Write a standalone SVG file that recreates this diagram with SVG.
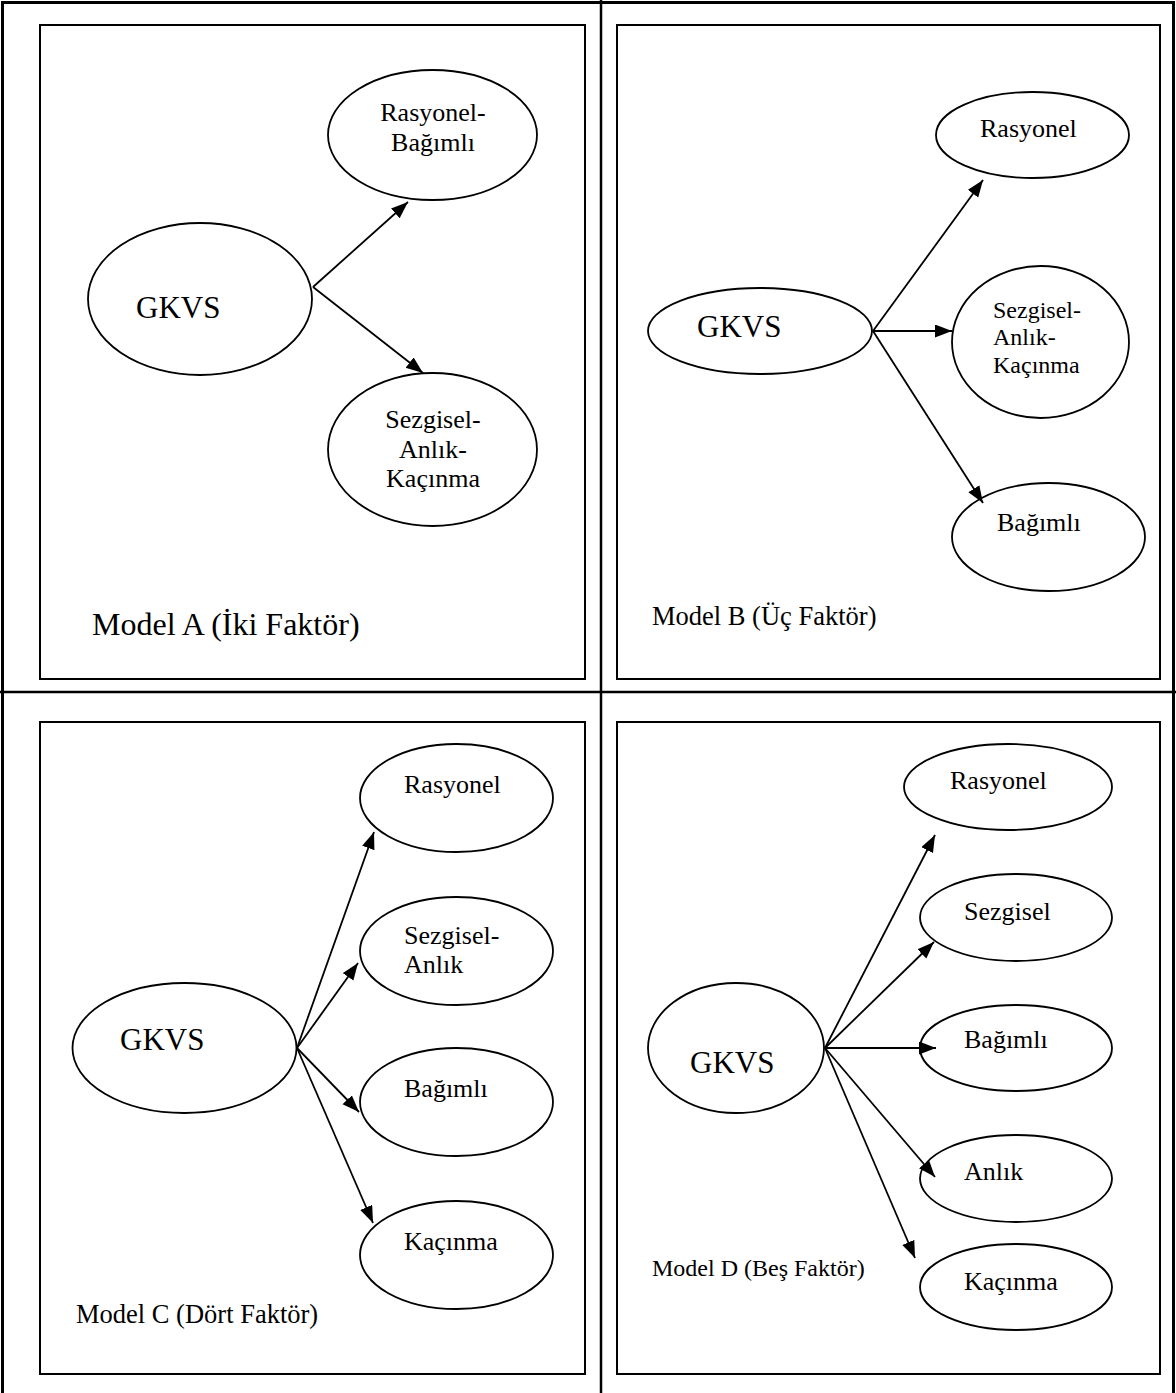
<svg xmlns="http://www.w3.org/2000/svg" width="1176" height="1393" viewBox="0 0 1176 1393">
<style>
  .frame { stroke: #000; stroke-width: 3; fill: none; }
  .div { stroke: #000; stroke-width: 2.5; fill: none; }
  .box { stroke: #000; stroke-width: 2; fill: none; }
  .node { stroke: #000; stroke-width: 1.8; fill: #fff; }
  .t { font-family: "Liberation Serif", "Times New Roman", serif; fill: #000; }
  .big { font-size: 31px; }
  .n { font-size: 26px; }
  .mid { text-anchor: middle; }
  .edge { stroke: #000; stroke-width: 1.8; fill: none; marker-end: url(#ah); }
</style>
<defs>
  <marker id="ah" markerUnits="userSpaceOnUse" markerWidth="18" markerHeight="14" refX="17" refY="6.5" orient="auto">
    <path d="M0,0 L17,6.5 L0,13 z" fill="#000"/>
  </marker>
</defs>
<rect width="1176" height="1393" fill="#fff"/>
<g id="frame">
  <path class="frame" d="M2.5,1393 V2.5 H1173.5 V1393"/>
  <path class="div" d="M601,0 V1393 M0,692 H1176"/>
  <rect class="box" x="40" y="25" width="545" height="654"/>
  <rect class="box" x="617" y="25" width="543" height="654"/>
  <rect class="box" x="40" y="722" width="545" height="652"/>
  <rect class="box" x="617" y="722" width="543" height="652"/>
</g>
<g id="modelA">
  <g id="a-gkvs"><ellipse class="node" cx="200" cy="299" rx="112" ry="76"/><text class="t big" x="136" y="318">GKVS</text></g>
  <g id="a-rb"><ellipse class="node" cx="432.5" cy="135" rx="104.5" ry="65"/><text class="t n mid" x="433" y="121">Rasyonel-</text><text class="t n mid" x="433" y="151">Bağımlı</text></g>
  <g id="a-sak"><ellipse class="node" cx="432.5" cy="449.5" rx="104.5" ry="76.5"/><text class="t n mid" x="433" y="428">Sezgisel-</text><text class="t n mid" x="433" y="458">Anlık-</text><text class="t n mid" x="433" y="487">Kaçınma</text></g>
  <text class="t" x="92" y="635" font-size="32">Model A (İki Faktör)</text>
</g>
<g id="modelB">
  <g id="b-gkvs"><ellipse class="node" cx="760" cy="331" rx="112" ry="43"/><text class="t big" x="697" y="337">GKVS</text></g>
  <g id="b-r"><ellipse class="node" cx="1032.5" cy="135" rx="96.5" ry="43"/><text class="t n" x="980" y="137">Rasyonel</text></g>
  <g id="b-sak"><ellipse class="node" cx="1040.5" cy="342" rx="88.5" ry="76"/><text class="t" font-size="24" x="993" y="318">Sezgisel-</text><text class="t" font-size="24" x="993" y="345">Anlık-</text><text class="t" font-size="24" x="993" y="373">Kaçınma</text></g>
  <g id="b-b"><ellipse class="node" cx="1048.5" cy="537" rx="96.5" ry="54"/><text class="t n" x="997" y="531">Bağımlı</text></g>
  <text class="t" x="652" y="625" font-size="26.5">Model B (Üç Faktör)</text>
</g>
<g id="modelC">
  <g id="c-gkvs"><ellipse class="node" cx="184.5" cy="1048" rx="112" ry="65"/><text class="t big" x="120" y="1050">GKVS</text></g>
  <g id="c-r"><ellipse class="node" cx="456.5" cy="798" rx="96.5" ry="54"/><text class="t n" x="404" y="793">Rasyonel</text></g>
  <g id="c-sa"><ellipse class="node" cx="456.5" cy="951" rx="96.5" ry="54"/><text class="t n" x="404" y="944">Sezgisel-</text><text class="t n" x="404" y="973">Anlık</text></g>
  <g id="c-b"><ellipse class="node" cx="456.5" cy="1102" rx="96.5" ry="54"/><text class="t n" x="404" y="1097">Bağımlı</text></g>
  <g id="c-k"><ellipse class="node" cx="456.5" cy="1255" rx="96.5" ry="54"/><text class="t n" x="404" y="1250">Kaçınma</text></g>
  <text class="t" x="76" y="1323" font-size="26.5">Model C (Dört Faktör)</text>
</g>
<g id="modelD">
  <g id="d-gkvs"><ellipse class="node" cx="736" cy="1048" rx="88" ry="65"/><text class="t big" x="690" y="1073">GKVS</text></g>
  <g id="d-r"><ellipse class="node" cx="1008" cy="787" rx="104" ry="43"/><text class="t n" x="950" y="789">Rasyonel</text></g>
  <g id="d-s"><ellipse class="node" cx="1016" cy="917.5" rx="96" ry="43.5"/><text class="t n" x="964" y="920">Sezgisel</text></g>
  <g id="d-b"><ellipse class="node" cx="1016" cy="1048" rx="96" ry="43"/><text class="t n" x="964" y="1048">Bağımlı</text></g>
  <g id="d-a"><ellipse class="node" cx="1016" cy="1178.5" rx="96" ry="43.5"/><text class="t n" x="964" y="1180">Anlık</text></g>
  <g id="d-k"><ellipse class="node" cx="1016" cy="1287" rx="96" ry="43"/><text class="t n" x="964" y="1290">Kaçınma</text></g>
  <text class="t" x="652" y="1276" font-size="24">Model D (Beş Faktör)</text>
</g>
<g id="connectors">
  <line class="edge" x1="313" y1="287" x2="408" y2="202"/>
  <line class="edge" x1="313" y1="287" x2="423" y2="373"/>
  <line class="edge" x1="873" y1="331" x2="983" y2="180"/>
  <line class="edge" x1="873" y1="331" x2="952" y2="331"/>
  <line class="edge" x1="873" y1="331" x2="983" y2="503"/>
  <line class="edge" x1="297" y1="1048" x2="374" y2="832"/>
  <line class="edge" x1="297" y1="1048" x2="358" y2="963"/>
  <line class="edge" x1="297" y1="1048" x2="359" y2="1112"/>
  <line class="edge" x1="297" y1="1048" x2="373" y2="1223"/>
  <line class="edge" x1="825" y1="1048" x2="935" y2="835"/>
  <line class="edge" x1="825" y1="1048" x2="934" y2="942"/>
  <line class="edge" x1="825" y1="1048" x2="936" y2="1048"/>
  <line class="edge" x1="825" y1="1048" x2="935" y2="1177"/>
  <line class="edge" x1="825" y1="1048" x2="915" y2="1258"/>
</g>
</svg>
